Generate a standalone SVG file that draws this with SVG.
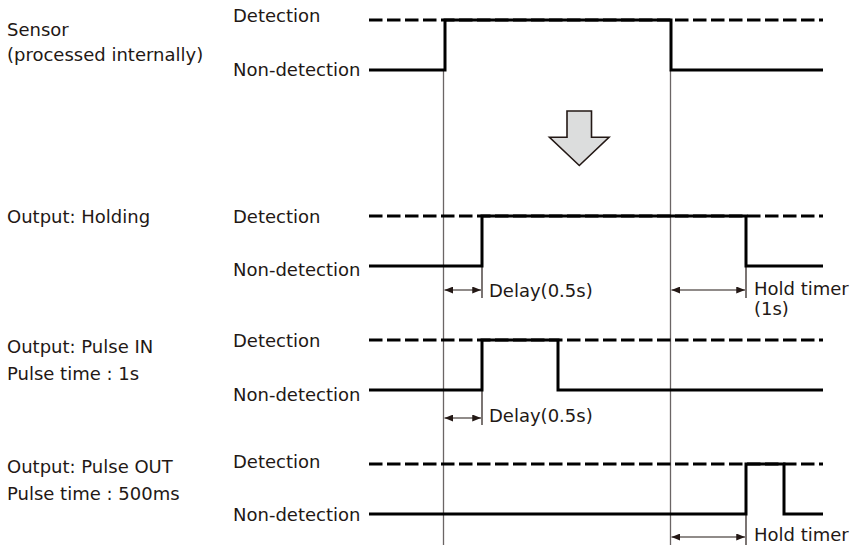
<svg xmlns="http://www.w3.org/2000/svg" width="855" height="545" viewBox="0 0 855 545">
  <defs>
    <style>
      text { font-family: "DejaVu Sans", Verdana, sans-serif; font-size: 18px; fill: #231815; }
      .dash { fill: none; stroke: #000; stroke-width: 3; stroke-dasharray: 13.5 4.5; }
      .sig { fill: none; stroke: #000; stroke-width: 3; stroke-linejoin: miter; stroke-linecap: butt; }
      .ref { fill: none; stroke: #6b6565; stroke-width: 1.3; }
      .tick { fill: none; stroke: #231815; stroke-width: 1.2; }
      .dim { fill: none; stroke: #231815; stroke-width: 1.2; marker-start: url(#ah); marker-end: url(#ah); }
    </style>
    <marker id="ah" viewBox="0 0 10 8" refX="10" refY="4" markerWidth="9" markerHeight="7" markerUnits="userSpaceOnUse" orient="auto-start-reverse">
      <path d="M0,0 L10,4 L0,8 Z" fill="#231815"/>
    </marker>
  </defs>

  <g id="connectors">
    <line class="ref" x1="443.5" y1="70" x2="443.5" y2="545"/>
    <line class="ref" x1="670.5" y1="70" x2="670.5" y2="545"/>
    <line class="tick" x1="482" y1="266" x2="482" y2="298"/>
    <line class="tick" x1="746" y1="266" x2="746" y2="298"/>
    <line class="tick" x1="482" y1="390" x2="482" y2="425"/>
    <line class="tick" x1="746" y1="514" x2="746" y2="545"/>
    <line class="dim" x1="444.5" y1="290" x2="481" y2="290"/>
    <line class="dim" x1="671.5" y1="290" x2="745" y2="290"/>
    <line class="dim" x1="444.5" y1="418" x2="481" y2="418"/>
    <line class="dim" x1="671.5" y1="537" x2="745" y2="537"/>
  </g>

  <g id="sensor">
    <text x="7" y="36">Sensor</text>
    <text x="7" y="61">(processed internally)</text>
    <text x="233" y="22">Detection</text>
    <text x="233" y="76">Non-detection</text>
    <line class="dash" x1="369" y1="20" x2="823" y2="20"/>
    <path class="sig" d="M369,70 H445 V20 H671 V70 H823"/>
  </g>

  <g id="down-arrow">
    <path d="M567,111 H591.5 V137.3 H609 L579.3,165.5 L549.5,137.3 H567 Z" fill="#dcdddd" stroke="#231815" stroke-width="1.6" stroke-linejoin="miter"/>
  </g>

  <g id="holding">
    <text x="7" y="223">Output: Holding</text>
    <text x="233" y="223">Detection</text>
    <text x="233" y="276">Non-detection</text>
    <line class="dash" x1="369" y1="216" x2="823" y2="216"/>
    <path class="sig" d="M369,266 H482 V216 H746 V266 H823"/>
    <text x="489" y="297">Delay(0.5s)</text>
    <text x="754" y="295">Hold timer</text>
    <text x="754" y="315">(1s)</text>
  </g>

  <g id="pulse-in">
    <text x="7" y="353">Output: Pulse IN</text>
    <text x="7" y="380">Pulse time : 1s</text>
    <text x="233" y="347">Detection</text>
    <text x="233" y="401">Non-detection</text>
    <line class="dash" x1="369" y1="340" x2="823" y2="340"/>
    <path class="sig" d="M369,390 H482 V340 H558 V390 H823"/>
    <text x="489" y="422">Delay(0.5s)</text>
  </g>

  <g id="pulse-out">
    <text x="7" y="473">Output: Pulse OUT</text>
    <text x="7" y="500">Pulse time : 500ms</text>
    <text x="233" y="468">Detection</text>
    <text x="233" y="521">Non-detection</text>
    <line class="dash" x1="369" y1="464" x2="823" y2="464"/>
    <path class="sig" d="M369,514 H746 V464 H784 V514 H823"/>
    <text x="754" y="541">Hold timer</text>
  </g>
</svg>
